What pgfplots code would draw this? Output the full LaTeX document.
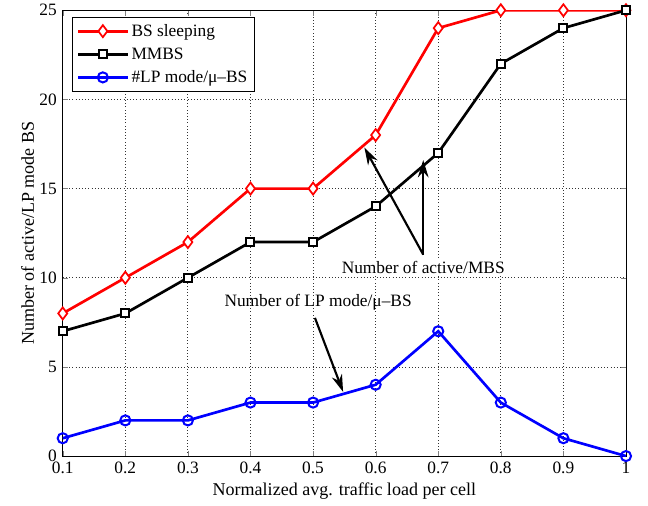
\documentclass[border=0pt]{standalone}
\usepackage{fontspec}
\setmainfont{Liberation Serif}
\usepackage{pgfplots}
\pgfplotsset{compat=1.18}
\usetikzlibrary{arrows.meta}
\begin{document}
\begin{tikzpicture}
\begin{axis}[
  name=ax,
  scale only axis, width=422pt, height=334pt,
  xmin=0.1, xmax=1, ymin=0, ymax=25,
  xtick={0.1,0.2,...,1.0},
  xticklabels={0.1,0.2,0.3,0.4,0.5,0.6,0.7,0.8,0.9,1},
  ytick={0,5,10,15,20,25},
  tick align=inside, tick pos=both,
  major tick length=4pt,
  grid=major, major grid style={dotted, black!80, line width=0.6pt},
  font=\fontsize{13}{15}\selectfont,
  /pgf/number format/assume math mode=true,
  xticklabel style={yshift=-1pt},
  yticklabel style={xshift=-1pt},
  xlabel={Normalized avg. traffic load per cell},
  ylabel={Number of active/LP mode BS},
  label style={font=\fontsize{13.5}{15}\selectfont},
  xlabel style={yshift=0pt},
  ylabel style={yshift=-3pt},
  legend cell align=left,
  legend image code/.code={\draw[mark repeat=2,mark phase=2] plot coordinates {(0cm,0cm) (0.65cm,0cm) (1.3cm,0cm)};},
  legend style={draw=black, line width=0.8pt, font=\fontsize{13}{15}\selectfont, at={(0.017,0.985)}, anchor=north west, row sep=3pt, inner xsep=3pt, inner ysep=3pt},
]
\addplot[red, line width=2pt, mark=diamond*, mark size=4.5pt, mark options={fill=white, line width=1.3pt}]
 coordinates {(0.1,8)(0.2,10)(0.3,12)(0.4,15)(0.5,15)(0.6,18)(0.7,24)(0.8,25)(0.9,25)(1.0,25)};
\addlegendentry{BS sleeping}
\addplot[black, line width=2pt, mark=square*, mark size=3pt, mark options={fill=white, line width=1.5pt}]
 coordinates {(0.1,7)(0.2,8)(0.3,10)(0.4,12)(0.5,12)(0.6,14)(0.7,17)(0.8,22)(0.9,24)(1.0,25)};
\addlegendentry{MMBS}
\addplot[blue, line width=2pt, mark=o, mark size=3.8pt, mark options={line width=1.5pt}]
 coordinates {(0.1,1)(0.2,2)(0.3,2)(0.4,3)(0.5,3)(0.6,4)(0.7,7)(0.8,3)(0.9,1)(1.0,0)};
\addlegendentry{\#LP mode/μ\textendash BS}
\draw[-{Stealth[length=13pt,width=8pt]}, line width=1.6pt] (axis cs:0.676,11.3) -- (axis cs:0.582,17.3);
\draw[-{Stealth[length=13pt,width=8pt]}, line width=1.6pt] (axis cs:0.676,11.3) -- (axis cs:0.676,16.6);
\node[fill=white, inner sep=1pt, font=\fontsize{13}{15}\selectfont] at (axis cs:0.676,10.6) {Number of active/MBS};
\node[font=\fontsize{13}{15}\selectfont] at (axis cs:0.508,8.6) {Number of LP mode/μ\textendash BS};
\draw[-{Stealth[length=13pt,width=8pt]}, line width=1.6pt] (axis cs:0.503,7.75) -- (axis cs:0.548,3.6);
\end{axis}
\path (ax.north east) ++(16.5pt,6pt);
\path (ax.south west) ++(-47pt,-37pt);
\end{tikzpicture}
\end{document}
